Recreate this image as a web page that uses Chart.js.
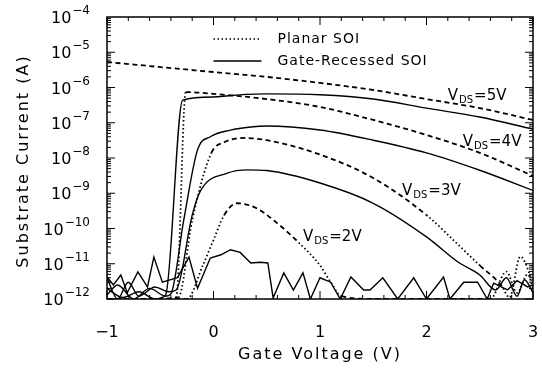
<!DOCTYPE html>
<html>
<head>
<meta charset="utf-8">
<script src="https://cdn.jsdelivr.net/npm/chart.js@4"></script>
<style>
html, body { margin: 0; padding: 0; background: #fff; }
#wrap { width: 542px; height: 368px; }
</style>
</head>
<body>
<div id="wrap"><canvas id="substrateChart"></canvas></div>
<script>
// [gate voltage (V), substrate current (A)]
const planar5V = [[-1, 5.3e-6], [-0.5, 3.8e-6], [0, 2.75e-6], [0.5, 2.0e-6], [1, 1.35e-6], [1.5, 8.5e-7], [2, 4.7e-7], [2.5, 2.6e-7], [3, 1.2e-7]];
const planar4V = [[-1, 1e-12], [-0.6, 1e-12], [-0.35, 1.1e-12], [-0.26, 7.4e-7], [0, 6.6e-7], [0.5, 4.7e-7], [1, 2.8e-7], [1.5, 1.2e-7], [2, 4.5e-8], [2.5, 1.4e-8], [3, 3.1e-9]];
const planar3V = [[-1, 1e-12], [-0.5, 1e-12], [-0.33, 1.1e-12], [-0.2, 1.7e-10], [-0.02, 1.4e-8], [0.1, 2.8e-8], [0.28, 3.7e-8], [0.5, 3.2e-8], [1, 1.25e-8], [1.5, 2.7e-9], [2, 2.4e-10], [2.3, 3.4e-11], [2.5, 9e-12], [2.7, 2.5e-12], [2.78, 1.1e-12], [2.88, 1.6e-11], [3, 3e-12]];
const planar2V = [[-1, 1e-12], [-0.5, 1e-12], [-0.25, 1e-12], [-0.1, 9e-12], [0, 4.7e-11], [0.1, 2.4e-10], [0.22, 5.2e-10], [0.4, 3.8e-10], [0.6, 1.4e-10], [0.8, 4e-11], [1, 9e-12], [1.1, 3e-12], [1.2, 1.2e-12], [1.5, 1e-12], [2.6, 1e-12], [2.75, 6e-12], [2.85, 1.5e-12], [2.95, 5e-12], [3, 2e-12]];

const recessed5V = [[-1, 2e-12], [-0.85, 1.1e-12], [-0.7, 1.6e-12], [-0.55, 1e-12], [-0.45, 1.3e-12], [-0.29, 4.4e-7], [0, 5.4e-7], [0.3, 6.4e-7], [0.5, 6.6e-7], [1, 6.2e-7], [1.5, 4.7e-7], [2, 2.6e-7], [2.5, 1.45e-7], [3, 6.6e-8]];
const recessed4V = [[-1, 1.3e-12], [-0.9, 2.5e-12], [-0.75, 1e-12], [-0.6, 2e-12], [-0.45, 1.2e-12], [-0.4, 1.4e-12], [-0.28, 1.7e-10], [-0.15, 1.7e-8], [-0.03, 4e-8], [0.16, 6.2e-8], [0.35, 7.6e-8], [0.5, 8.1e-8], [1, 6.2e-8], [1.5, 3.2e-8], [2, 1.4e-8], [2.5, 4.5e-9], [3, 1.2e-9]];
const recessed3V = [[-1, 4e-12], [-0.9, 1e-12], [-0.8, 3e-12], [-0.7, 1.2e-12], [-0.55, 2.2e-12], [-0.42, 1.6e-12], [-0.35, 1.8e-12], [-0.2, 2.4e-10], [-0.12, 1.2e-9], [0.13, 3.7e-9], [0.32, 4.6e-9], [0.5, 4.4e-9], [1, 1.95e-9], [1.5, 5.2e-10], [2, 5.8e-11], [2.3, 1.1e-11], [2.5, 4.8e-12], [2.65, 1.8e-12], [2.75, 4e-12], [2.85, 1.2e-12], [2.92, 3.5e-12], [3, 1.5e-12]];
const recessed2V = [[-1, 4.2e-12], [-0.94, 2.5e-12], [-0.87, 4.8e-12], [-0.81, 1.5e-12], [-0.71, 5.9e-12], [-0.62, 2.2e-12], [-0.56, 1.55e-11], [-0.48, 3e-12], [-0.34, 4e-12], [-0.23, 1.55e-11], [-0.15, 2e-12], [-0.03, 1.45e-11], [0.07, 1.8e-11], [0.16, 2.5e-11], [0.25, 2.1e-11], [0.35, 1.05e-11], [0.44, 1.1e-11], [0.51, 1.05e-11], [0.56, 1.07e-12], [0.66, 5.5e-12], [0.75, 1.8e-12], [0.84, 5.5e-12], [0.91, 1e-12], [1, 4e-12], [1.1, 3e-12], [1.19, 1e-12], [1.29, 4.2e-12], [1.41, 1.8e-12], [1.47, 1.8e-12], [1.59, 4e-12], [1.73, 1e-12], [1.88, 4e-12], [2, 1e-12], [2.16, 4.2e-12], [2.22, 1e-12], [2.35, 3e-12], [2.48, 3e-12], [2.57, 1e-12], [2.63, 2.8e-12], [2.76, 1.8e-12], [2.85, 3.3e-12], [2.95, 2.2e-12], [3, 2.5e-12]];

const xTicks = [-1, 0, 1, 2, 3];
const xTickLabels = ['\u22121', '0', '1', '2', '3'];
const yExponents = [-12, -11, -10, -9, -8, -7, -6, -5, -4];
const legendLabels = ['Planar SOI', 'Gate-Recessed SOI'];
const vdsLabels = [
  { text: '5V', x: 2.2, y: 4.4e-7 },
  { text: '4V', x: 2.34, y: 2.2e-8 },
  { text: '3V', x: 1.77, y: 8.9e-10 },
  { text: '2V', x: 0.84, y: 4.5e-11 }
];

const FONT = "'DejaVu Sans', sans-serif";
const toPoints = arr => arr.map(([x, y]) => ({ x, y }));

// steep parts of the planar curves are drawn dotted, as in the figure
const steep = ctx => {
  const dy = Math.abs(Math.log10(ctx.p1.parsed.y / ctx.p0.parsed.y));
  const dx = Math.abs(ctx.p1.parsed.x - ctx.p0.parsed.x) || 1e-6;
  return dy / dx > 2.8;
};

const planarSet = data => ({
  data: toPoints(data),
  borderColor: '#000',
  borderWidth: 1.8,
  borderDash: [5, 3.5],
  cubicInterpolationMode: 'monotone',
  segment: { borderDash: ctx => steep(ctx) ? [1.5, 2.5] : undefined }
});
const recessedSet = (data, smooth = true) => ({
  data: toPoints(data),
  borderColor: '#000',
  borderWidth: 1.4,
  cubicInterpolationMode: smooth ? 'monotone' : 'default'
});

const frame = {
  id: 'frame',
  afterDraw(chart) {
    const { ctx, chartArea: a, scales: { x, y } } = chart;
    ctx.save();
    ctx.strokeStyle = '#000';
    ctx.fillStyle = '#000';
    ctx.lineWidth = 1.5;
    ctx.strokeRect(a.left, a.top, a.right - a.left, a.bottom - a.top);

    // inward ticks
    ctx.lineWidth = 1;
    ctx.beginPath();
    for (let i = 0; i < yExponents.length - 1; i++) {
      for (let m = 1; m < 10; m++) {
        const py = y.getPixelForValue(m * Math.pow(10, yExponents[i]));
        const len = m === 1 ? 8 : 4;
        ctx.moveTo(a.left, py); ctx.lineTo(a.left + len, py);
        ctx.moveTo(a.right, py); ctx.lineTo(a.right - len, py);
      }
    }
    for (let k = 0; k <= 20; k++) {
      const v = xTicks[0] + k * 0.2;
      const px = x.getPixelForValue(v);
      const len = k % 5 === 0 ? 8 : 4;
      ctx.moveTo(px, a.bottom); ctx.lineTo(px, a.bottom - len);
      ctx.moveTo(px, a.top); ctx.lineTo(px, a.top + len);
    }
    ctx.stroke();

    // y tick labels 10^n
    ctx.textAlign = 'right';
    ctx.textBaseline = 'alphabetic';
    yExponents.forEach(e => {
      const py = y.getPixelForValue(Math.pow(10, e));
      const exp = '\u2212' + Math.abs(e);
      ctx.font = '12px ' + FONT;
      const w = ctx.measureText(exp).width;
      ctx.fillText(exp, a.left - 17, py - 3);
      ctx.font = '16px ' + FONT;
      ctx.fillText('10', a.left - 17 - w - 1, py + 6);
    });

    // x tick labels
    ctx.textAlign = 'center';
    ctx.font = '16px ' + FONT;
    xTicks.forEach((v, i) => ctx.fillText(xTickLabels[i], x.getPixelForValue(v), a.bottom + 38));

    // axis titles
    ctx.letterSpacing = '2px';
    ctx.fillText('Gate Voltage (V)', (a.left + a.right) / 2, a.bottom + 60);
    ctx.save();
    ctx.translate(28, (a.top + a.bottom) / 2 + 3);
    ctx.rotate(-Math.PI / 2);
    ctx.fillText('Substrate Current (A)', 0, 0);
    ctx.restore();

    // legend
    ctx.letterSpacing = '1px';
    ctx.font = '14px ' + FONT;
    ctx.textAlign = 'left';
    ctx.textBaseline = 'middle';
    const lx = x.getPixelForValue(0);
    [[1.5, 2.5], []].forEach((dash, i) => {
      const ly = a.top + 22 + i * 22;
      ctx.setLineDash(dash);
      ctx.lineWidth = 1.5;
      ctx.beginPath();
      ctx.moveTo(lx, ly); ctx.lineTo(lx + 48, ly);
      ctx.stroke();
      ctx.fillText(legendLabels[i], lx + 64, ly);
    });
    ctx.setLineDash([]);

    // V_DS labels
    ctx.letterSpacing = '0px';
    ctx.textBaseline = 'alphabetic';
    vdsLabels.forEach(l => {
      let px = x.getPixelForValue(l.x);
      const py = y.getPixelForValue(l.y);
      ctx.font = '15px ' + FONT;
      ctx.fillText('V', px, py);
      px += ctx.measureText('V').width + 1;
      ctx.font = '10px ' + FONT;
      ctx.fillText('DS', px, py + 3);
      px += ctx.measureText('DS').width + 1;
      ctx.font = '15px ' + FONT;
      ctx.fillText('=' + l.text, px, py);
    });
    ctx.restore();
  }
};

new Chart(document.getElementById('substrateChart'), {
  type: 'line',
  data: {
    datasets: [
      planarSet(planar5V), planarSet(planar4V), planarSet(planar3V), planarSet(planar2V),
      recessedSet(recessed5V), recessedSet(recessed4V), recessedSet(recessed3V), recessedSet(recessed2V, false)
    ]
  },
  options: {
    responsive: true,
    maintainAspectRatio: false,
    animation: false,
    layout: { padding: { left: 107, right: 9, top: 17, bottom: 69 } },
    elements: { point: { radius: 0 }, line: { tension: 0 } },
    plugins: { legend: { display: false }, tooltip: { enabled: false } },
    scales: {
      x: { type: 'linear', min: -1, max: 3, display: false },
      y: { type: 'logarithmic', min: 1e-12, max: 1e-4, display: false }
    }
  },
  plugins: [frame]
});
</script>
</body>
</html>
